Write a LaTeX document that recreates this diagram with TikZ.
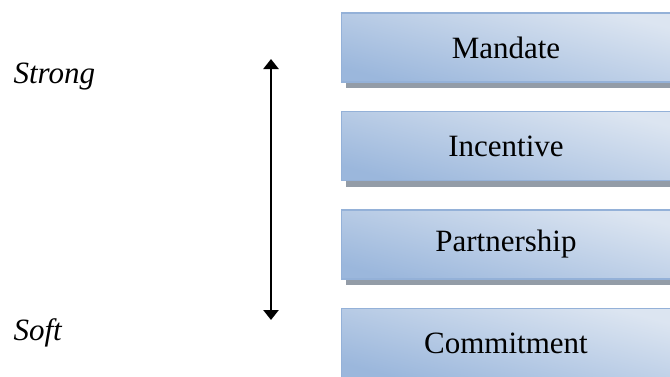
\documentclass[tikz,border=0pt]{standalone}
\usepackage{fontspec}
\setmainfont{Liberation Serif}
\usetikzlibrary{positioning,shadows,arrows.meta}
\definecolor{boxtop}{HTML}{DCE5F1}
\definecolor{boxbottom}{HTML}{9BB7DC}
\definecolor{boxline}{HTML}{94B1D8}
\definecolor{shadowgray}{HTML}{939CA7}

\begin{document}
\begin{tikzpicture}[
    x=1pt,y=1pt,
    level/.style={rectangle,draw=boxline,line width=1.5pt,
        top color=boxtop,bottom color=boxbottom,shading angle=-15,
        minimum width=329pt,minimum height=69pt,inner sep=0pt,
        font=\fontsize{31}{37}\selectfont,
        drop shadow={shadow xshift=4pt,shadow yshift=-6pt,fill=shadowgray,opacity=1}},
    side/.style={anchor=base west,font=\fontsize{31}{37}\selectfont\itshape},
    >={Triangle[length=10pt,width=15pt]}
]
\useasboundingbox (0,0) rectangle (670,376);

% boxes, strongest on top
\node[level] (mandate)    at (506,328.5) {Mandate};
\node[level] (incentive)  [below=28pt of mandate]     {Incentive};
\node[level] (partner)    [below=28pt of incentive]   {Partnership};
\node[level] (commit)     [below=28pt of partner]     {Commitment};

% labels on the left
\node[side] (strong) at (10,293) {Strong};
\node[side] (soft)   at (10,36)  {Soft};

% double arrow
\coordinate (hi) at (271,317);
\coordinate (lo) at (271,56);
\draw[<->,line width=2.5pt] (lo) -- (hi);

\end{tikzpicture}
\end{document}
